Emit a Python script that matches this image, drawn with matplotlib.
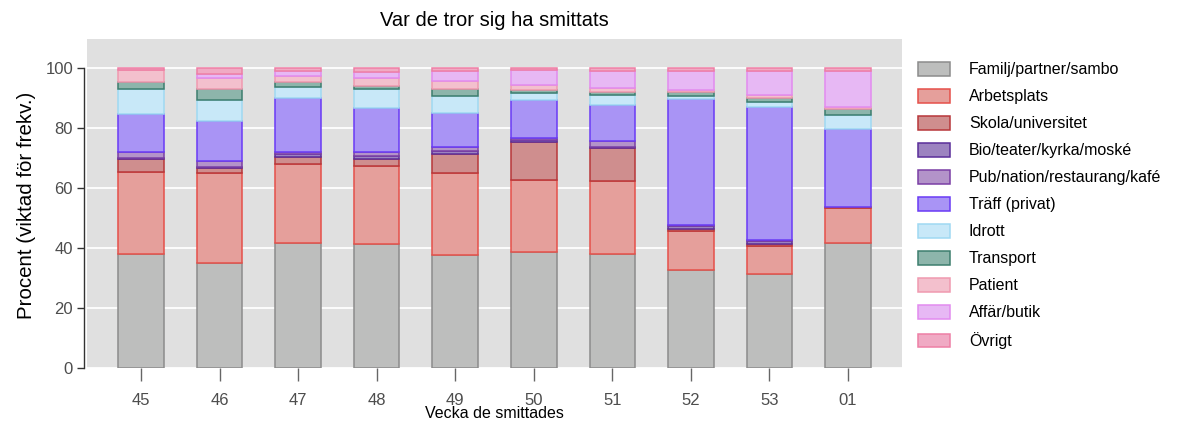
import numpy as np
import matplotlib
matplotlib.use('Agg')
import matplotlib.pyplot as plt
from matplotlib.patches import Patch

plt.rcParams['font.family'] = ['Liberation Sans', 'DejaVu Sans']

weeks = ['45', '46', '47', '48', '49', '50', '51', '52', '53', '01']

familj = [38.0, 35.1, 41.8, 41.2, 37.7, 38.5, 38.0, 32.5, 31.4, 41.8]
arbetsplats = [27.4, 29.8, 26.0, 26.1, 27.4, 24.1, 24.3, 13.0, 9.4, 11.6]
skola = [4.1, 1.6, 2.6, 2.3, 6.2, 12.6, 10.9, 0.8, 0.6, 0.3]
bio = [0.5, 0.6, 0.9, 0.9, 1.1, 0.7, 0.5, 1.0, 1.0, 0.0]
pub = [1.8, 1.9, 0.5, 1.6, 1.3, 0.6, 1.9, 0.4, 0.3, 0.0]
traff = [12.7, 13.3, 18.2, 14.6, 11.1, 12.7, 12.0, 41.9, 44.1, 25.8]
idrott = [8.4, 6.9, 3.5, 6.4, 5.9, 2.5, 3.3, 1.1, 1.9, 4.9]
transport = [2.4, 3.9, 1.8, 0.9, 2.1, 0.9, 1.1, 1.1, 1.4, 1.8]
patient = [3.9, 3.6, 2.0, 2.7, 2.8, 1.6, 1.3, 0.8, 1.0, 0.7]
affar = [0.0, 1.2, 1.6, 2.0, 3.4, 5.0, 5.7, 6.3, 7.8, 11.9]
ovrigt = [0.8, 2.1, 1.1, 1.3, 1.0, 0.8, 1.0, 1.1, 1.1, 1.1]

labels = ['Familj/partner/sambo', 'Arbetsplats', 'Skola/universitet',
          'Bio/teater/kyrka/moské', 'Pub/nation/restaurang/kafé', 'Träff (privat)',
          'Idrott', 'Transport', 'Patient', 'Affär/butik', 'Övrigt']
series = [familj, arbetsplats, skola, bio, pub, traff, idrott, transport,
          patient, affar, ovrigt]
fills = ['#BDBEBD', '#E59F9B', '#CF8E8E', '#9C83C0', '#B393C9', '#A994F5',
         '#C8E8F8', '#8DB5AB', '#F3C0CD', '#E7B8F4', '#F0AAC4']
edges = ['#8C8C8C', '#E5504A', '#B8373A', '#5A2E9A', '#7A3FA5', '#6A3BF5',
         '#9FD9F2', '#3D7E6E', '#F09AB0', '#E28BEF', '#EE7FA5']

fig = plt.figure(figsize=(11.77, 4.25), dpi=100)
ax = fig.add_axes([87 / 1177, 57 / 425, 815 / 1177, 329 / 425])
ax.set_facecolor('#E0E0E0')

x = np.arange(len(weeks))
bottom = np.zeros(len(weeks))
for vals, fc, ec in zip(series, fills, edges):
    v = np.array(vals)
    lw = np.where(v > 0, 1.1, 0)
    ax.bar(x, v, bottom=bottom, width=0.58, color=fc, edgecolor=ec,
           linewidth=lw, zorder=3)
    bottom += v

ax.set_xlim(-0.69, 9.69)
ax.set_ylim(0, 109.6)
ax.set_yticks([0, 20, 40, 60, 80, 100])
ax.set_xticks(x)
ax.set_xticklabels(weeks)
ax.grid(axis='y', color='white', linewidth=1.3, zorder=1)
ax.set_axisbelow(True)

for s in ['top', 'right', 'bottom']:
    ax.spines[s].set_visible(False)
ax.spines['left'].set_position(('outward', 2))
ax.spines['left'].set_bounds(0, 100)
ax.spines['left'].set_color('#333333')
ax.spines['left'].set_linewidth(1.0)

ax.tick_params(axis='y', length=5, width=1, color='#333333',
               labelcolor='#4D4D4D', labelsize=12, pad=3)
ax.tick_params(axis='x', length=9, width=1, color='#666666',
               labelcolor='#4D4D4D', labelsize=12, pad=9)

ax.set_title('Var de tror sig ha smittats', fontsize=14.5, pad=9)
ax.set_ylabel('Procent (viktad för frekv.)', fontsize=14.8)
ax.yaxis.label.set_va('center')
ax.yaxis.set_label_coords(-0.074, 0.495)
ax.set_xlabel('Vecka de smittades', fontsize=11.5)
ax.xaxis.label.set_va('center')
ax.xaxis.set_label_coords(0.5, -0.139)

handles = [Patch(facecolor=fc, edgecolor=ec, linewidth=1.1)
           for fc, ec in zip(fills, edges)]
fig.legend(handles, labels, loc='upper left', bbox_to_anchor=(918 / 1177, 1 - 62 / 425),
           frameon=False, fontsize=11.5, handlelength=2.0, handleheight=0.94,
           handletextpad=1.19, labelspacing=0.73, borderpad=0, borderaxespad=0)

fig.savefig('out.png', dpi=100)
